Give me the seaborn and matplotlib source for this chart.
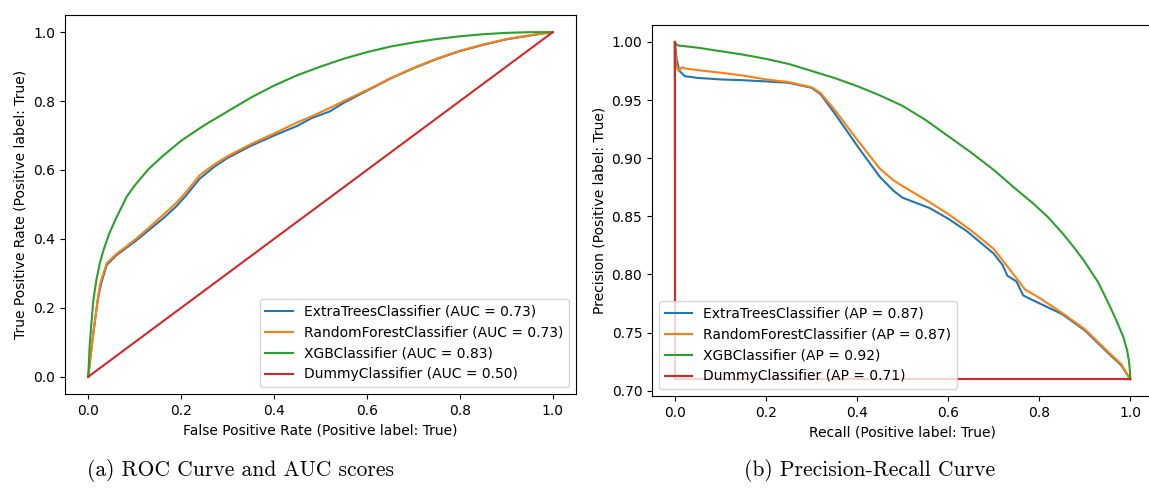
import matplotlib
matplotlib.use("Agg")
import matplotlib.pyplot as plt
import seaborn as sns
import numpy as np
import pandas as pd

# ---- ROC curves (false positive rate, true positive rate) ----
roc_labels = [
    "ExtraTreesClassifier (AUC = 0.73)",
    "RandomForestClassifier (AUC = 0.73)",
    "XGBClassifier (AUC = 0.83)",
    "DummyClassifier (AUC = 0.50)",
]

et_fpr = [0.0, 0.005, 0.011, 0.02, 0.028, 0.04, 0.06, 0.08, 0.1, 0.13, 0.16, 0.19, 0.21, 0.24,
          0.27, 0.3, 0.35, 0.4, 0.45, 0.48, 0.52, 0.55, 0.6, 0.65, 0.7, 0.75, 0.8, 0.85, 0.9, 0.95, 1.0]
et_tpr = [0.0, 0.06, 0.127, 0.22, 0.272, 0.325, 0.352, 0.372, 0.392, 0.425, 0.458, 0.495, 0.525, 0.575,
          0.608, 0.635, 0.67, 0.70, 0.728, 0.75, 0.77, 0.795, 0.83, 0.865, 0.895, 0.922, 0.945, 0.963, 0.979, 0.99, 1.0]

rf_fpr = [0.0, 0.005, 0.011, 0.02, 0.026, 0.04, 0.06, 0.08, 0.1, 0.13, 0.16, 0.19, 0.21, 0.24,
          0.27, 0.3, 0.35, 0.4, 0.45, 0.48, 0.52, 0.55, 0.6, 0.65, 0.7, 0.75, 0.8, 0.85, 0.9, 0.95, 1.0]
rf_tpr = [0.0, 0.06, 0.127, 0.22, 0.272, 0.33, 0.356, 0.376, 0.397, 0.432, 0.468, 0.505, 0.535, 0.585,
          0.615, 0.64, 0.675, 0.706, 0.738, 0.755, 0.78, 0.80, 0.832, 0.866, 0.896, 0.923, 0.946, 0.964, 0.98, 0.991, 1.0]

xgb_fpr = [0.0, 0.003, 0.007, 0.011, 0.018, 0.025, 0.033, 0.045, 0.06, 0.083, 0.1, 0.13, 0.16, 0.2, 0.25, 0.3,
           0.35, 0.4, 0.45, 0.5, 0.55, 0.6, 0.65, 0.7, 0.75, 0.8, 0.85, 0.9, 0.95, 1.0]
xgb_tpr = [0.0, 0.09, 0.16, 0.223, 0.285, 0.33, 0.368, 0.415, 0.46, 0.523, 0.555, 0.603, 0.64, 0.685, 0.73, 0.77,
           0.81, 0.845, 0.875, 0.9, 0.923, 0.942, 0.958, 0.97, 0.98, 0.988, 0.994, 0.998, 1.0, 1.0]

dummy_fpr = [0.0, 1.0]
dummy_tpr = [0.0, 1.0]

# ---- Precision-recall curves (recall, precision) ----
pr_labels = [
    "ExtraTreesClassifier (AP = 0.87)",
    "RandomForestClassifier (AP = 0.87)",
    "XGBClassifier (AP = 0.92)",
    "DummyClassifier (AP = 0.71)",
]

et_recall = [0.0, 0.0, 0.004, 0.01, 0.022, 0.05, 0.1, 0.15, 0.2, 0.25, 0.3, 0.32, 0.35, 0.407, 0.45, 0.48,
             0.5, 0.56, 0.6, 0.642, 0.7, 0.72, 0.73, 0.75, 0.765, 0.78, 0.85, 0.9, 0.95, 0.98, 1.0]
et_precision = [0.97, 1.0, 0.985, 0.975, 0.9705, 0.969, 0.9677, 0.967, 0.966, 0.9648, 0.9605, 0.955, 0.939, 0.907, 0.884, 0.872,
                0.866, 0.857, 0.848, 0.837, 0.818, 0.808, 0.799, 0.794, 0.782, 0.779, 0.766, 0.752, 0.733, 0.722, 0.71]

rf_recall = [0.0, 0.0, 0.003, 0.008, 0.015, 0.025, 0.05, 0.1, 0.15, 0.2, 0.25, 0.3, 0.32, 0.35, 0.4,
             0.45, 0.48, 0.5, 0.56, 0.6, 0.65, 0.7, 0.736, 0.769, 0.8, 0.85, 0.9, 0.95, 0.98, 1.0]
rf_precision = [0.898, 1.0, 0.98, 0.975, 0.978, 0.977, 0.9757, 0.9735, 0.971, 0.9677, 0.9654, 0.961, 0.956, 0.942, 0.916,
                0.891, 0.881, 0.876, 0.862, 0.852, 0.838, 0.822, 0.804, 0.787, 0.780, 0.767, 0.753, 0.734, 0.723, 0.71]

xgb_recall = [0.0, 0.005, 0.05, 0.1, 0.15, 0.2, 0.25, 0.3, 0.35, 0.4, 0.45, 0.5, 0.55, 0.6, 0.65,
              0.7, 0.75, 0.787, 0.82, 0.85, 0.875, 0.897, 0.93, 0.956, 0.97, 0.985, 0.993, 0.997, 0.9995, 1.0]
xgb_precision = [1.0, 0.997, 0.995, 0.992, 0.989, 0.9854, 0.981, 0.975, 0.969, 0.962, 0.954, 0.945, 0.933, 0.919, 0.905,
                 0.890, 0.873, 0.861, 0.849, 0.836, 0.824, 0.8126, 0.793, 0.772, 0.760, 0.746, 0.735, 0.726, 0.716, 0.71]

dummy_recall = [0.0, 0.0, 1.0]
dummy_precision = [1.0, 0.71, 0.71]

captions = ["(a) ROC Curve and AUC scores", "(b) Precision-Recall Curve"]

colors = sns.color_palette("tab10")

fig = plt.figure(figsize=(11.49, 4.91), dpi=100)
ax_roc = fig.add_axes([0.0566, 0.1976, 0.4447, 0.772])
ax_pr = fig.add_axes([0.5675, 0.1935, 0.436, 0.7556])

roc_series = [(et_fpr, et_tpr), (rf_fpr, rf_tpr), (xgb_fpr, xgb_tpr), (dummy_fpr, dummy_tpr)]
for (x, y), lab, col in zip(roc_series, roc_labels, colors):
    df = pd.DataFrame({"x": x, "y": y})
    sns.lineplot(data=df, x="x", y="y", sort=False, estimator=None, color=col,
                 linewidth=1.5, label=lab, ax=ax_roc)

pr_series = [(et_recall, et_precision), (rf_recall, rf_precision),
             (xgb_recall, xgb_precision), (dummy_recall, dummy_precision)]
for (x, y), lab, col in zip(pr_series, pr_labels, colors):
    df = pd.DataFrame({"x": x, "y": y})
    sns.lineplot(data=df, x="x", y="y", sort=False, estimator=None, color=col,
                 linewidth=1.5, label=lab, ax=ax_pr)

ax_roc.set_xlim(-0.05, 1.05)
ax_roc.set_ylim(-0.05, 1.05)
ax_roc.set_xticks(np.arange(0, 1.01, 0.2))
ax_roc.set_yticks(np.arange(0, 1.01, 0.2))
ax_roc.set_xlabel("False Positive Rate (Positive label: True)")
ax_roc.set_ylabel("True Positive Rate (Positive label: True)")
ax_roc.legend(loc="lower right")

ax_pr.set_xlim(-0.05, 1.05)
ax_pr.set_ylim(0.6955, 1.0145)
ax_pr.set_xticks(np.arange(0, 1.01, 0.2))
ax_pr.set_yticks(np.arange(0.70, 1.001, 0.05))
ax_pr.set_xlabel("Recall (Positive label: True)")
ax_pr.set_ylabel("Precision (Positive label: True)")
ax_pr.legend(loc="lower left")

fig.text(0.209, 0.042, captions[0], ha="center", va="center", fontsize=15.5, family="cmr10")
fig.text(0.757, 0.042, captions[1], ha="center", va="center", fontsize=15.5, family="cmr10")

fig.savefig("out.png", dpi=100)
